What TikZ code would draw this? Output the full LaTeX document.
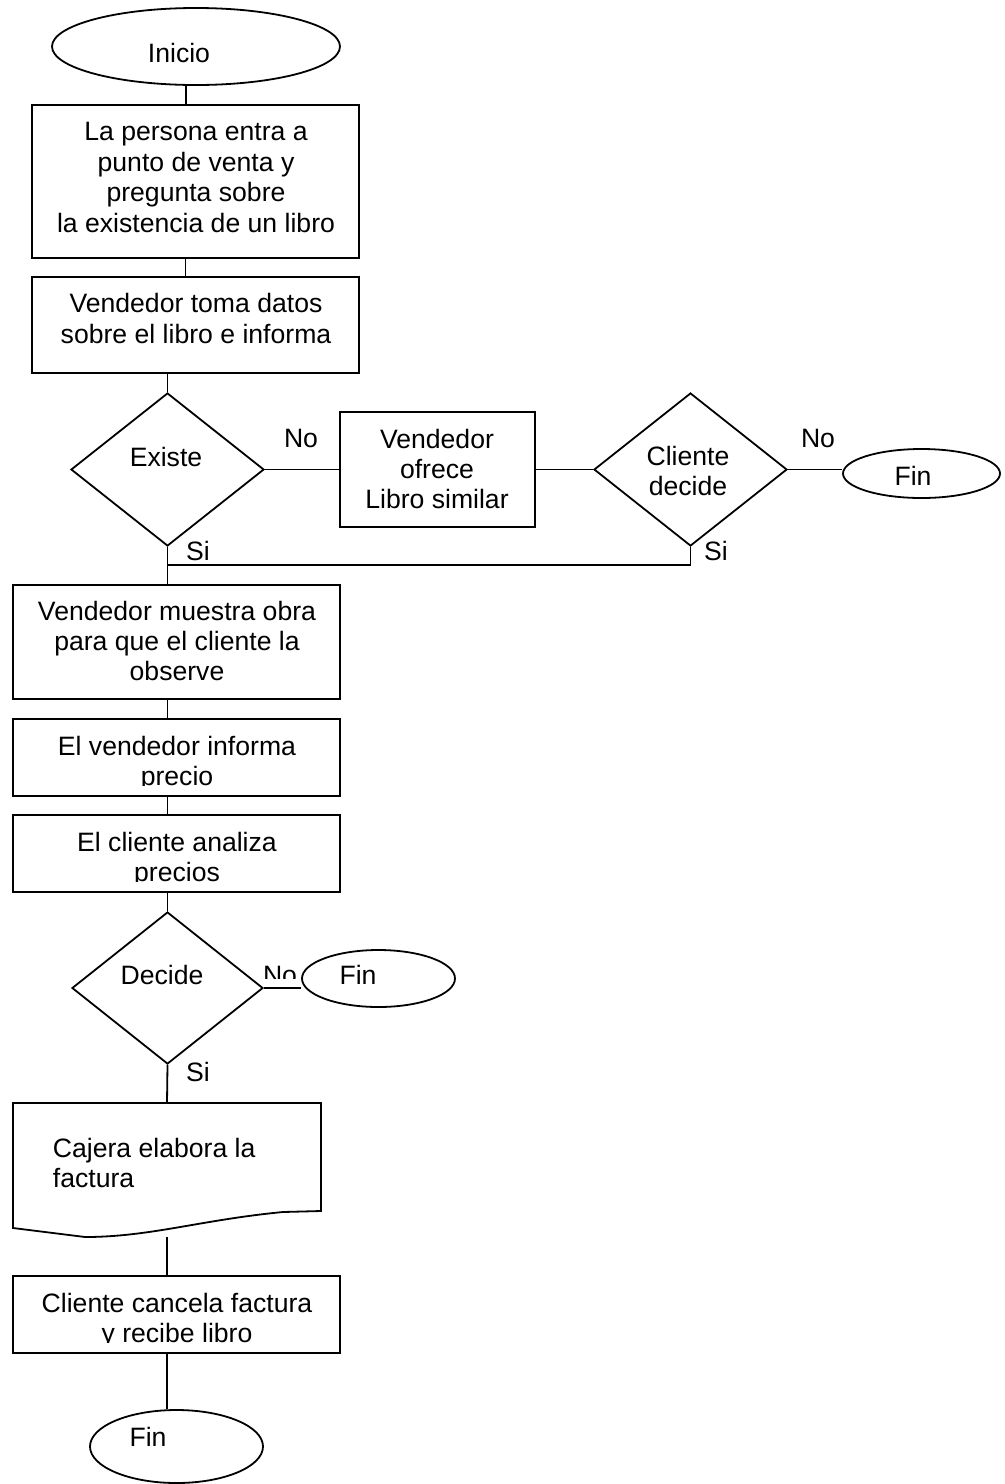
\documentclass[tikz,border=0pt]{standalone}
\usepackage{fontspec}
\setmainfont{Liberation Sans}
\usetikzlibrary{shapes.geometric,calc}
\begin{document}
\begin{tikzpicture}[x=0.5pt,y=-0.5pt, line width=0.9pt,
  every node/.style={font=\fontsize{13.3}{15.2}\selectfont},
  box/.style={draw, rectangle, inner sep=0, fill=white},
  term/.style={draw, ellipse, inner sep=0, fill=white},
  dec/.style={draw, diamond, inner sep=0, fill=white},
  txt/.style={inner sep=0, align=center}]
\useasboundingbox (0,0) rectangle (1005,1484);

% shapes
\node[term, minimum width=144pt, minimum height=38.5pt] (inicio) at (196,46.5) {};
\node[box, minimum width=163.5pt, minimum height=76.5pt] (b1) at (195.5,181.5) {};
\node[box, minimum width=163.5pt, minimum height=48pt] (b2) at (195.5,325) {};
\node[dec, minimum width=96.5pt, minimum height=76.5pt] (existe) at (167.5,469.5) {};
\node[box, minimum width=97.5pt, minimum height=57.5pt] (vof) at (437.5,469.5) {};
\node[dec, minimum width=96.5pt, minimum height=76.5pt] (cli) at (690.5,469.5) {};
\node[term, minimum width=78.5pt, minimum height=24.5pt] (finr) at (921.5,473.5) {};
\node[box, minimum width=163.5pt, minimum height=57pt] (b3) at (176.5,642) {};
\node[box, minimum width=163.5pt, minimum height=38.5pt] (b4) at (176.5,757.5) {};
\node[box, minimum width=163.5pt, minimum height=38.5pt] (b5) at (176.5,853.5) {};
\node[dec, minimum width=95.5pt, minimum height=76pt] (decide) at (167.5,988) {};
\begin{scope}
  \clip (255,950) rectangle (310,978);
  \node[txt] (no3) at (280,975) {No};
\end{scope}
\node[term, minimum width=76.5pt, minimum height=28.5pt] (fin2) at (378.5,978.5) {};
\draw[fill=white] (13,1103) -- (321,1103) -- (321,1211) -- (283,1212)
  .. controls (200,1220) and (150,1237) .. (85,1237) -- (13,1228) -- cycle;
\coordinate (doctop) at (167,1103);
\coordinate (docbot) at (167,1237);
\node[box, minimum width=163.5pt, minimum height=38.5pt] (b6) at (176.5,1314.5) {};
\node[term, minimum width=86.5pt, minimum height=36.5pt] (fin3) at (176.5,1446.5) {};

% connectors
\draw ([xshift=-5pt]inicio.south) -- ([xshift=-5pt]inicio.south |- b1.north);
\draw ([xshift=-5pt]b1.south) -- ([xshift=-5pt]b1.south |- b2.north);
\draw (existe.north |- b2.south) -- (existe.north);
\draw (existe.east) -- (vof.west);
\draw (vof.east) -- (cli.west);
\draw (cli.east) -- (cli.east -| finr.west);
\coordinate (join) at (167,565);
\draw (existe.south) -- (existe.south |- b3.north);
\draw (cli.south) -- (cli.south |- join) -- (join);
\draw (decide.north |- b3.south) -- (decide.north |- b4.north);
\draw (decide.north |- b4.south) -- (decide.north |- b5.north);
\draw (decide.north |- b5.south) -- (decide.north);
\draw (decide.east) -- (decide.east -| fin2.west);
\draw (decide.south) -- (doctop);
\draw (docbot) -- (docbot |- b6.north);
\draw (docbot |- b6.south) -- (docbot |- fin3.north);

% texts
\node[txt] (tinicio) at (179,53) {Inicio};
\node[txt] (t1) at (196,177.5) {La persona entra a\\punto de venta y\\pregunta sobre\\la existencia de un libro};
\node[txt] (t2) at (196,318.5) {Vendedor toma datos\\sobre el libro e informa};
\node[txt] (texiste) at (166,457) {Existe};
\node[txt] (tvof) at (437,469) {Vendedor\\ofrece\\Libro similar};
\node[txt] (tcli) at (688,471) {Cliente\\decide};
\node[txt] (tfinr) at (913,476) {Fin};
\node[txt] (no1) at (301,438) {No};
\node[txt] (no2) at (818,438) {No};
\node[txt] (si1) at (198,551) {Si};
\node[txt] (si2) at (716,551) {Si};
\node[txt] (t3) at (177,641) {Vendedor muestra obra\\para que el cliente la\\observe};
\begin{scope}
  \clip (14,720) rectangle (339,785.5);
  \node[txt, anchor=base] (t4) at (177,785.5) {El vendedor informa\\precio};
\end{scope}
\begin{scope}
  \clip (14,816) rectangle (339,881.5);
  \node[txt, anchor=base] (t5) at (177,881.5) {El cliente analiza\\precios};
\end{scope}
\node[txt] (tdecide) at (162,975) {Decide};
\node[txt] (tfin2) at (358,975) {Fin};
\node[txt] (si3) at (198,1072) {Si};
\node[txt, align=left, anchor=west] (tdoc) at (52,1163) {Cajera elabora la\\factura};
\begin{scope}
  \clip (14,1277) rectangle (339,1342.5);
  \node[txt, anchor=base] (t6) at (177,1342.5) {Cliente cancela factura\\y recibe libro};
\end{scope}
\node[txt] (tfin3) at (148,1437) {Fin};
\end{tikzpicture}
\end{document}
